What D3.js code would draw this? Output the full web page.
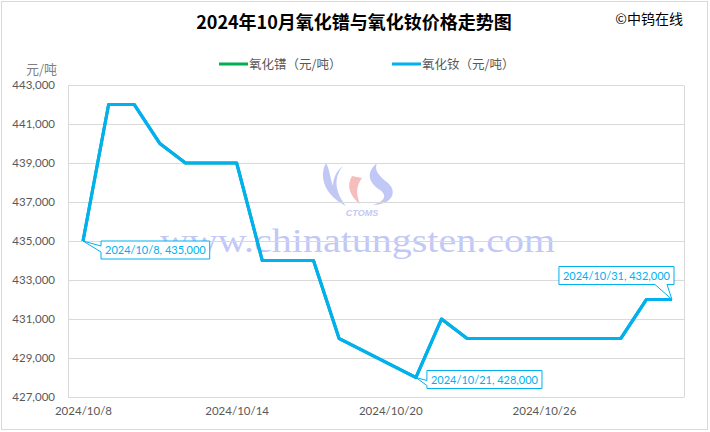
<!DOCTYPE html>
<html><head><meta charset="utf-8">
<script src="https://cdn.jsdelivr.net/npm/d3@7"></script>
<style>
html,body{margin:0;padding:0;background:#fff;}
svg{display:block;}
</style></head>
<body>
<svg id="chart" width="710" height="432"></svg>
<script>
// ---- data ----
const dates = ["2024-10-08","2024-10-09","2024-10-10","2024-10-11","2024-10-12","2024-10-13","2024-10-14","2024-10-15","2024-10-16","2024-10-17","2024-10-18","2024-10-21","2024-10-22","2024-10-23","2024-10-24","2024-10-25","2024-10-26","2024-10-27","2024-10-28","2024-10-29","2024-10-30","2024-10-31"];
const prValues = [435000,442000,442000,440000,439000,439000,439000,434000,434000,434000,430000,428000,431000,430000,430000,430000,430000,430000,430000,430000,432000,432000];
const ndValues = [435000,442000,442000,440000,439000,439000,439000,434000,434000,434000,430000,428000,431000,430000,430000,430000,430000,430000,430000,430000,432000,432000];
const seriesNames = ["氧化镨（元/吨）","氧化钕（元/吨）"];
const yTicks = [427000,429000,431000,433000,435000,437000,439000,441000,443000];
const xTickDates = ["2024-10-08","2024-10-14","2024-10-20","2024-10-26"];
const labeledDates = ["2024-10-08","2024-10-21","2024-10-31"];
const title = "2024年10月氧化镨与氧化钕价格走势图";
const copyright = "©中钨在线";
const unitLabel = "元/吨";
const watermarkText = "www.chinatungsten.com";

// ---- setup ----
const parse = d3.timeParse("%Y-%m-%d");
const svg = d3.select("#chart");
const font = "Lato, 'Noto Sans CJK SC', sans-serif";
const cjk = "'Noto Sans CJK SC', sans-serif";
const blue = "#00b0f0", green = "#00b050", grid = "#d9d9d9", txt = "#595959";

const plot = {left:68, right:684, top:85, bottom:397};
const x = d3.scaleTime().domain([parse("2024-10-08"), parse("2024-10-31")]).range([83, 672]);
const y = d3.scaleLinear().domain([427000, 443000]).range([plot.bottom, plot.top]);

// outer border
svg.append("rect").attr("x",1.5).attr("y",1.5).attr("width",706).attr("height",428)
  .attr("fill","#fff").attr("stroke","#d9d9d9");

// title & copyright
svg.append("text").attr("x",354).attr("y",29).attr("text-anchor","middle")
  .attr("font-family",cjk).attr("font-weight","bold").attr("font-size",18).attr("fill","#000").text(title);
svg.append("text").attr("x",683).attr("y",24).attr("text-anchor","end")
  .attr("font-family",cjk).attr("font-size",14).attr("fill","#000").text(copyright);

// legend
const legend = [{name:seriesNames[0], color:green, x:219},{name:seriesNames[1], color:blue, x:392}];
legend.forEach(l=>{
  svg.append("line").attr("x1",l.x).attr("x2",l.x+29).attr("y1",64).attr("y2",64)
    .attr("stroke",l.color).attr("stroke-width",3);
  svg.append("text").attr("x",l.x+30).attr("y",68.5).attr("font-family",cjk).attr("font-size",12.5)
    .attr("fill",txt).text(l.name);
});

// unit label
svg.append("text").attr("x",57).attr("y",74).attr("text-anchor","end")
  .attr("font-family",cjk).attr("font-size",13).attr("fill","#7f7f7f").text(unitLabel);

// watermark
const wm = svg.append("g").attr("opacity",0.55);
wm.append("path").attr("d","M326,163 C318,178 326,196 346,206 C335,192 333,178 343,166 C337,170 333,178 333,186 C330,178 330,170 326,163 Z").attr("fill","#8f9cf0");
wm.append("path").attr("d","M352,176 C346,186 350,196 360,204 C356,194 356,186 362,178 Z").attr("fill","#f08888");
wm.append("path").attr("d","M377,163 C366,172 368,182 380,190 C388,196 384,202 372,205 C392,205 398,192 388,183 C378,175 374,170 377,163 Z").attr("fill","#8f9cf0");
wm.append("text").attr("x",362).attr("y",216).attr("text-anchor","middle").attr("font-family","Liberation Sans, sans-serif")
  .attr("font-style","italic").attr("font-weight","bold").attr("font-size",9).attr("fill","#8f9cf0").text("CTOMS");
wm.append("text").attr("x",160).attr("y",252).attr("textLength",395).attr("lengthAdjust","spacingAndGlyphs")
  .attr("font-family","'Liberation Serif', 'DejaVu Serif', serif").attr("font-size",34).attr("fill","#8f9cf0").text(watermarkText);

// gridlines and plot border
svg.append("g").selectAll("line").data(yTicks).join("line")
  .attr("x1",plot.left).attr("x2",plot.right).attr("y1",d=>Math.round(y(d))+0.5).attr("y2",d=>Math.round(y(d))+0.5)
  .attr("stroke",grid);
[plot.left, plot.right].forEach(px=>{
  svg.append("line").attr("x1",px+0.5).attr("x2",px+0.5).attr("y1",Math.round(y(443000))+0.5).attr("y2",Math.round(y(427000))+0.5).attr("stroke",grid);
});

// y axis labels
const yAxis = d3.axisLeft(y).tickValues(yTicks).tickFormat(d3.format(",")).tickSize(0).tickPadding(13);
const yg = svg.append("g").attr("transform",`translate(${plot.left},0)`).call(yAxis);
yg.select(".domain").remove();
yg.selectAll("text").attr("font-family",font).attr("font-size",11.5).attr("fill",txt);

// x axis labels
const xAxis = d3.axisBottom(x).tickValues(xTickDates.map(parse)).tickFormat(d3.timeFormat("%Y/%-m/%-d")).tickSize(0).tickPadding(10);
const xg = svg.append("g").attr("transform",`translate(0,${plot.bottom})`).call(xAxis);
xg.select(".domain").remove();
xg.selectAll("text").attr("font-family",font).attr("font-size",11.5).attr("fill",txt);

// lines
const pr = dates.map((d,i)=>({date:parse(d), v:prValues[i]}));
const nd = dates.map((d,i)=>({date:parse(d), v:ndValues[i]}));
const line = d3.line().x(d=>x(d.date)).y(d=>y(d.v));
svg.append("path").datum(pr).attr("d",line).attr("fill","none").attr("stroke",green).attr("stroke-width",3).attr("stroke-linejoin","round");
svg.append("path").datum(nd).attr("d",line).attr("fill","none").attr("stroke",blue).attr("stroke-width",3.2).attr("stroke-linejoin","round");

// callouts
const fmtDate = d3.timeFormat("%Y/%-m/%-d");
const fmtNum = d3.format(",");
const calloutSpecs = [
  {dx:18, dy:0, side:"left"},
  {dx:11, dy:-7, side:"left"},
  {dx:2, dy:-33, side:"bottom"}
];
labeledDates.forEach((ds,k)=>{
  const i = dates.indexOf(ds);
  const p = {x:x(parse(ds)), y:y(ndValues[i])};
  const spec = calloutSpecs[k];
  const g = svg.append("g");
  const t = g.append("text").attr("font-family",font).attr("font-size",11).attr("fill",blue)
    .text(fmtDate(parse(ds)) + ", " + fmtNum(ndValues[i]));
  const w = t.node().getComputedTextLength() + 8;
  const h = 18;
  let x0, y0;
  if (spec.side === "left") { x0 = p.x + spec.dx; y0 = p.y + spec.dy; }
  else { x0 = p.x + spec.dx - w; y0 = p.y + spec.dy; }
  const x1 = x0 + w, y1 = y0 + h;
  let d;
  if (spec.side === "left") {
    const a = k===0 ? y0+5 : y0+10, b = k===0 ? y0+11 : y0+15;
    d = `M${x0},${y0} L${x1},${y0} L${x1},${y1} L${x0},${y1} L${x0},${b} L${p.x},${p.y} L${x0},${a} Z`;
  } else {
    d = `M${x0},${y0} L${x1},${y0} L${x1},${y1} L${x1-7},${y1} L${p.x},${p.y} L${x1-19},${y1} L${x0},${y1} Z`;
  }
  g.insert("path","text").attr("d",d).attr("fill","#fff").attr("stroke",blue).attr("stroke-width",1);
  t.attr("x",x0+4).attr("y",y0+13);
});
</script>
</body></html>
